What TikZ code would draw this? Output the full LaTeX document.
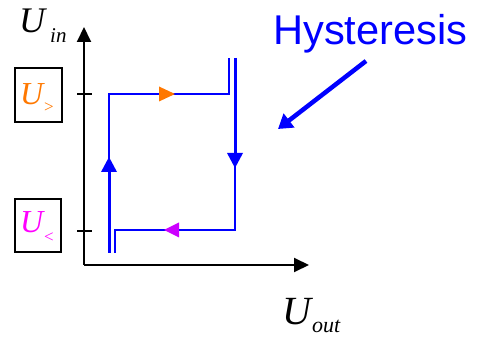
\documentclass[tikz,border=0pt]{standalone}
\usepackage{fontspec}
\setmainfont{Liberation Serif}
\newfontfamily\arialfont{Liberation Sans}
\usetikzlibrary{arrows.meta}
\definecolor{uorange}{RGB}{255,120,0}
\definecolor{umagenta}{RGB}{255,0,255}
\definecolor{apurple}{RGB}{204,0,255}
\definecolor{hblue}{RGB}{0,0,255}
\begin{document}
\begin{tikzpicture}[x=1pt,y=-1pt,
  axis/.style={line width=2pt,black},
  thinline/.style={line width=1.8pt,hblue},
  thickline/.style={line width=3pt,hblue},
  labbox/.style={draw=black,line width=1.5pt},
  lab/.style={inner sep=0pt,anchor=base west}]
\useasboundingbox (0,0) rectangle (477,339);
% axes
\coordinate (O) at (84,265);
\coordinate (Ytop) at (84,27);
\coordinate (Xend) at (309,265);
\draw[axis,-{Triangle[length=15pt,width=14pt]}] (O) -- (Ytop);
\draw[axis,-{Triangle[length=15pt,width=14pt]}] (O) -- (Xend);
% ticks
\coordinate (t1a) at (77,94); \coordinate (t1b) at (92,94);
\coordinate (t2a) at (77,231); \coordinate (t2b) at (92,231);
\draw[line width=1.5pt] (t1a) -- (t1b);
\draw[line width=1.5pt] (t2a) -- (t2b);
% axis labels
\node[lab] (Uin) at (19,33) {\fontsize{36}{36}\selectfont\textit{U}};
\node[lab] (Uinsub) at (50,43) {\fontsize{21}{21}\selectfont\textit{in}};
\node[lab] (Uout) at (282,325) {\fontsize{40}{40}\selectfont\textit{U}};
\node[lab] (Uoutsub) at (312,333) {\fontsize{22}{22}\selectfont\textit{out}};
% threshold boxes
\draw[labbox] (15,68) rectangle (62,122);
\draw[labbox] (15,199) rectangle (61,252);
\node[lab,text=uorange] (Ug) at (20,105) {\fontsize{32}{32}\selectfont\textit{U}};
\node[lab,text=uorange] (Ugs) at (44,113) {\fontsize{17}{17}\selectfont >};
\node[lab,text=umagenta] (Ul) at (20,233) {\fontsize{32}{32}\selectfont\textit{U}};
\node[lab,text=umagenta] (Uls) at (44,243) {\fontsize{17}{17}\selectfont <};
% hysteresis loop
\coordinate (a0) at (109,253); \coordinate (a1) at (109,165);
\coordinate (a2) at (109,94); \coordinate (a3) at (229,94); \coordinate (a4) at (229,58);
\coordinate (b0) at (235,58); \coordinate (b1) at (235,160);
\coordinate (b2) at (235,230); \coordinate (b3) at (115,230); \coordinate (b4) at (115,253);
\draw[thickline] (a0) -- (a1);
\draw[thinline,line join=miter] (a1) -- (a2) -- (a3) -- (a4);
\draw[thickline] (b0) -- (b1);
\draw[thinline,line join=miter] (b1) -- (b2) -- (b3) -- (b4);
% direction arrowheads
\fill[hblue] (101,172) -- (109,157) -- (117,172) -- cycle;
\fill[hblue] (227,153) -- (235,168) -- (243,153) -- cycle;
\fill[uorange] (159,86.5) -- (175,94) -- (159,101.5) -- cycle;
\fill[apurple] (179,222.5) -- (164,230) -- (179,237.5) -- cycle;
% Hysteresis label
\node[lab,text=hblue] (H) at (273,45) {\arialfont\fontsize{41.6}{42}\selectfont Hysteresis};
\coordinate (hs) at (366,61); \coordinate (he) at (278,129);
\draw[hblue,line width=4.5pt,-{Triangle[length=14pt,width=17pt]}] (hs) -- (he);
\end{tikzpicture}
\end{document}
